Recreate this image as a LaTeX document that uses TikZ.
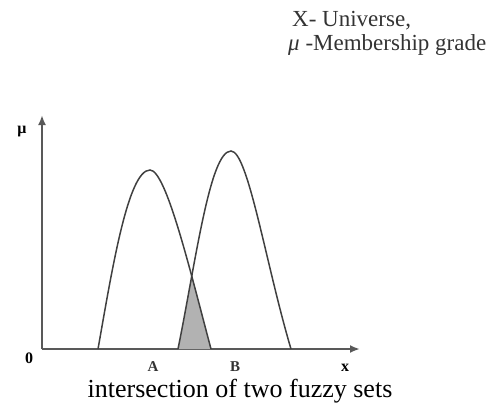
\documentclass[tikz,border=0pt]{standalone}
\usepackage{fontspec}
\setmainfont{Liberation Serif}
\usetikzlibrary{arrows.meta}
\begin{document}
\begin{tikzpicture}[
  x=1pt,y=-1pt,
  >={Latex[length=10pt,width=8pt]},
  axis/.style={->,line width=2pt,black!65},
  curve/.style={line width=1.5pt,black!75},
  lbl/.style={inner sep=0pt,font=\fontsize{16}{16}\selectfont\bfseries},
  setlbl/.style={inner sep=0pt,font=\fontsize{15}{15}\selectfont\bfseries,black!80},
  legend/.style={anchor=base west,inner sep=0pt,font=\fontsize{23}{23}\selectfont,black!80}
]
\useasboundingbox (0,0) rectangle (502,405);
% axes
\coordinate (O) at (42,349);
\coordinate (ytip) at (42,115);
\coordinate (xtip) at (360,349);
\draw[axis] (O)--(ytip);
\draw[axis] (O)--(xtip);
\node[lbl] (mu) at (22,132) {μ};
\node[lbl] (zero) at (29,358) {0};
\node[lbl] (xl) at (345,368) {x};
% shaded intersection
\begin{scope}
\clip (178,349) .. controls (196,260) and (210,151) .. (231,151)
  .. controls (248,151) and (266,265) .. (291,349) -- cycle;
\fill[gray!60] (98,349) .. controls (112,270) and (128,170) .. (150,170)
  .. controls (166,170) and (190,270) .. (211,349) -- cycle;
\end{scope}
% fuzzy sets A and B
\draw[curve] (98,349) .. controls (112,270) and (128,170) .. (150,170)
  .. controls (166,170) and (190,270) .. (211,349);
\draw[curve] (178,349) .. controls (196,260) and (210,151) .. (231,151)
  .. controls (248,151) and (266,265) .. (291,349);
\node[setlbl] (a) at (153,367) {A};
\node[setlbl] (b) at (235,367) {B};
% legend and caption
\node[legend] (univ) at (292,26) {X- Universe,};
\node[legend] (grade) at (288,50) {{\itshape μ} -Membership grade};
\node[anchor=base,inner sep=0pt,font=\fontsize{26}{26}\selectfont] (cap) at (240,397) {intersection of two fuzzy sets};
\end{tikzpicture}
\end{document}
